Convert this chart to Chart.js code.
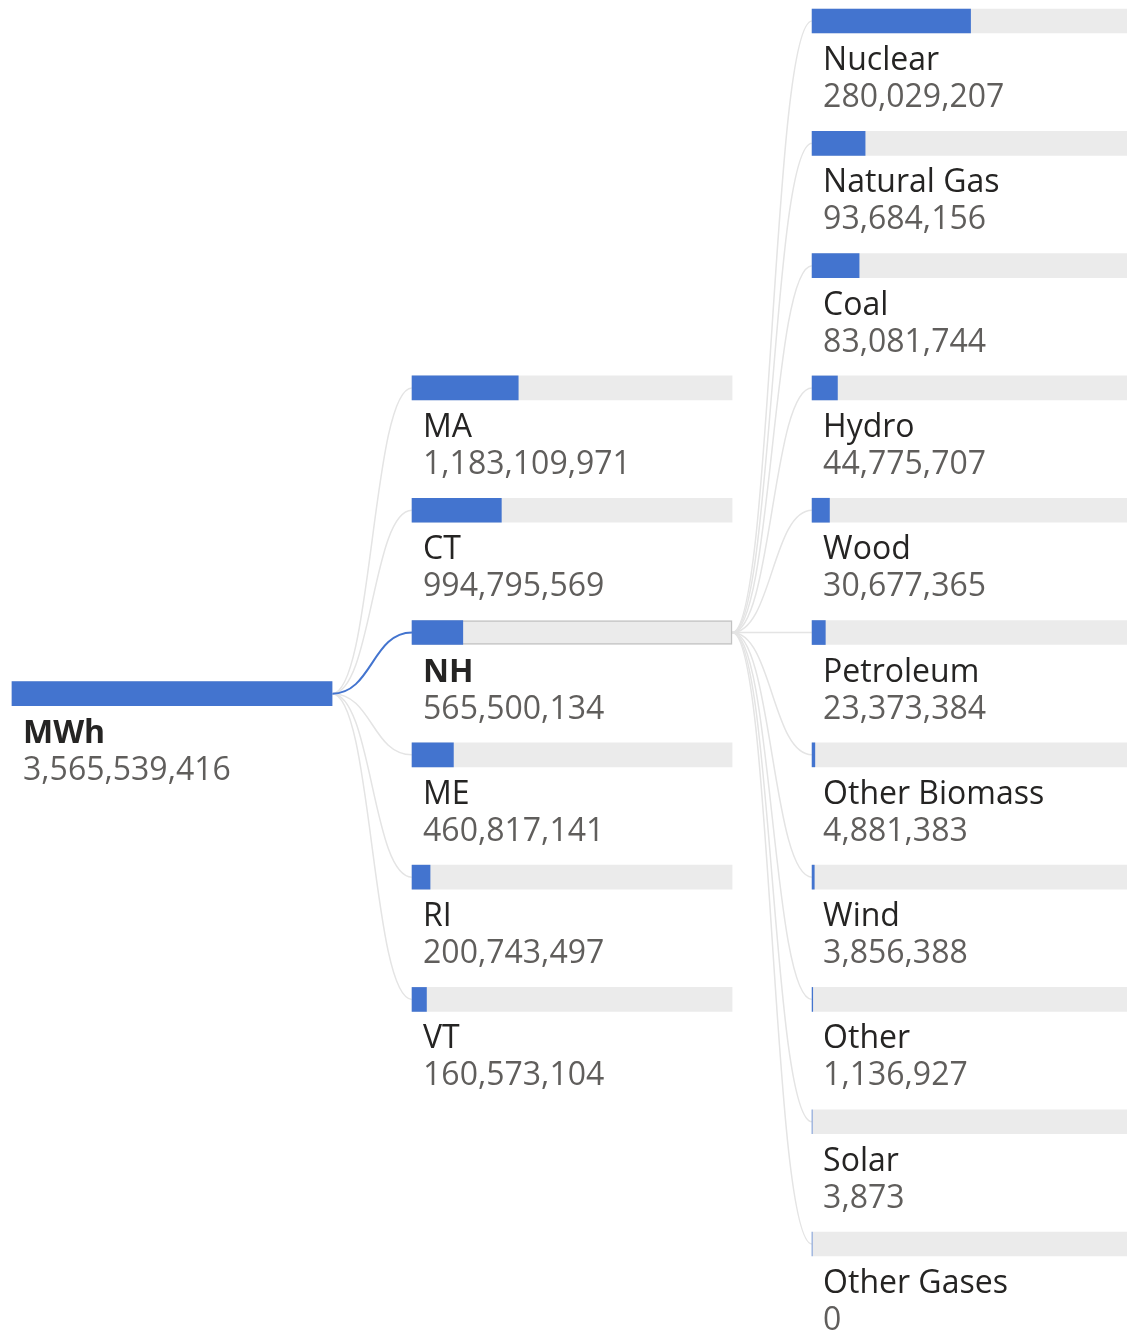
<!DOCTYPE html>
<html>
<head>
<meta charset="utf-8">
<title>MWh decomposition</title>
<script src="https://cdn.jsdelivr.net/npm/chart.js@4.4.1/dist/chart.umd.min.js"></script>
<style>
  html, body { margin: 0; padding: 0; background: #ffffff; }
  #wrap { width: 1127px; height: 1331px; position: relative; }
</style>
</head>
<body>
<div id="wrap"><canvas id="tree"></canvas></div>
<script>
// Datos del árbol de descomposición
const rootLabel = "MWh";
const rootValue = 3565539416;

const states = ["MA", "CT", "NH", "ME", "RI", "VT"];
const stateValues = [1183109971, 994795569, 565500134, 460817141, 200743497, 160573104];
const selectedState = "NH";

const sources = ["Nuclear", "Natural Gas", "Coal", "Hydro", "Wood", "Petroleum",
  "Other Biomass", "Wind", "Other", "Solar", "Other Gases"];
const sourceValues = [280029207, 93684156, 83081744, 44775707, 30677365, 23373384,
  4881383, 3856388, 1136927, 3873, 0];

// columnas (en unidades de ancho de barra)
const colStart = [0, 1.25, 2.5];

const BLUE = "#4374cf";
const TRACK = "#ebebeb";

let selIdx = states.indexOf(selectedState);
let selValue = stateValues[selIdx];

// posiciones verticales: hijos centrados en el nodo padre
let sourceSlots = sources.map((s, i) => i);
let selSlot = (sources.length - 1) / 2;
let stateSlots = states.map((s, i) => selSlot - selIdx + i);
let rootSlot = (stateSlots[0] + stateSlots[stateSlots.length - 1]) / 2;

let nodes = [];
nodes.push({ name: rootLabel, value: rootValue, share: 1, col: 0, slot: rootSlot, bold: true });
states.forEach((s, i) => {
  nodes.push({ name: s, value: stateValues[i], share: stateValues[i] / rootValue,
    col: 1, slot: stateSlots[i], bold: s === selectedState, selected: s === selectedState });
});
sources.forEach((s, i) => {
  nodes.push({ name: s, value: sourceValues[i], share: sourceValues[i] / selValue,
    col: 2, slot: sourceSlots[i] });
});

let valueData = nodes.map((n) => ({ y: n.slot, x: [colStart[n.col], colStart[n.col] + n.share] }));
let trackData = nodes.map((n) => ({ y: n.slot, x: [colStart[n.col], colStart[n.col] + 1] }));

// conectores entre padre e hijos
const connectorPlugin = {
  id: "connectors",
  beforeDatasetsDraw(chart) {
    let ctx = chart.ctx;
    let xs = chart.scales.x;
    let ys = chart.scales.y;
    let links = [];
    stateSlots.forEach((slot, i) => {
      links.push({ from: [1, rootSlot], to: [colStart[1], slot], on: states[i] === selectedState });
    });
    sourceSlots.forEach((slot) => {
      links.push({ from: [colStart[1] + 1, selSlot], to: [colStart[2], slot], on: false });
    });
    ctx.save();
    // primero los grises, luego el camino seleccionado
    links.sort((a, b) => a.on - b.on).forEach((l) => {
      let x0 = xs.getPixelForValue(l.from[0]);
      let y0 = ys.getPixelForValue(l.from[1]);
      let x1 = xs.getPixelForValue(l.to[0]);
      let y1 = ys.getPixelForValue(l.to[1]);
      let mx = (x0 + x1) / 2;
      ctx.beginPath();
      ctx.moveTo(x0, y0);
      ctx.bezierCurveTo(mx, y0, mx, y1, x1, y1);
      ctx.strokeStyle = l.on ? BLUE : "#e4e4e4";
      ctx.lineWidth = l.on ? 2 : 1.5;
      ctx.stroke();
    });
    ctx.restore();
  },
};

// nombres y valores bajo cada barra
const labelPlugin = {
  id: "nodeLabels",
  afterDatasetsDraw(chart) {
    let ctx = chart.ctx;
    let xs = chart.scales.x;
    let ys = chart.scales.y;
    ctx.save();
    ctx.textBaseline = "alphabetic";
    ctx.textAlign = "left";
    nodes.forEach((n) => {
      let x = xs.getPixelForValue(colStart[n.col]) + 11;
      let y = ys.getPixelForValue(n.slot);
      ctx.font = (n.bold ? "bold " : "") + "32px 'Open Sans', sans-serif";
      ctx.fillStyle = "#252423";
      ctx.fillText(n.name, x, y + 49);
      ctx.font = "32px 'Open Sans', sans-serif";
      ctx.fillStyle = "#605e5c";
      ctx.fillText(n.value.toLocaleString("en-US"), x, y + 86);
    });
    ctx.restore();
  },
};

let ctx = document.getElementById("tree").getContext("2d");
new Chart(ctx, {
  type: "bar",
  data: {
    datasets: [
      {
        label: "valor",
        data: valueData,
        backgroundColor: BLUE,
        borderWidth: 0,
        barThickness: 24,
        grouped: false,
        order: 0,
      },
      {
        label: "total",
        data: trackData,
        backgroundColor: TRACK,
        borderColor: nodes.map((n) => (n.selected ? "#c2c2c2" : TRACK)),
        borderWidth: nodes.map((n) => (n.selected ? 1.5 : 0)),
        borderSkipped: false,
        barThickness: 24,
        grouped: false,
        order: 1,
      },
    ],
  },
  options: {
    indexAxis: "y",
    responsive: true,
    maintainAspectRatio: false,
    animation: false,
    layout: { padding: 0 },
    plugins: { legend: { display: false }, tooltip: { enabled: false } },
    scales: {
      x: { type: "linear", min: -0.0375, max: 3.484, display: false },
      y: { type: "linear", min: -0.172, max: 10.711, reverse: true, offset: false, display: false },
    },
  },
  plugins: [connectorPlugin, labelPlugin],
});
</script>
</body>
</html>
